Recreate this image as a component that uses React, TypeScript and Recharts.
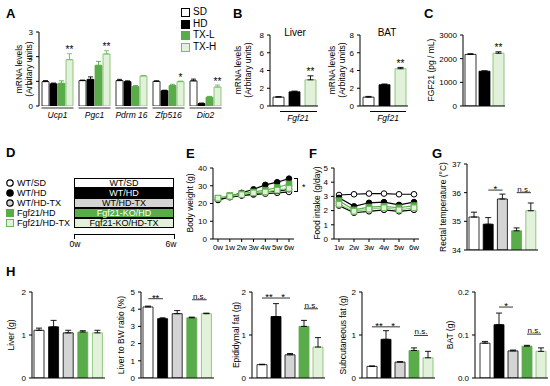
import React from 'react';
import { BarChart, Bar, LineChart, Line, XAxis, YAxis, ErrorBar, Cell, LabelList, ReferenceLine } from 'recharts';

const FONT = '"Liberation Sans", Arial, Helvetica, sans-serif';

// ---- A: thermogenic genes in BAT
const genes = ['Ucp1', 'Pgc1', 'Pdrm 16', 'Zfp516', 'Dio2'];
const aSD = [0.99, 1.03, 1.03, 1.0, 1.02];
const aSDerr = [0.04, 0.02, 0.05, 0.02, 0.07];
const aHD = [0.9, 1.08, 0.99, 0.62, 0.1];
const aHDerr = [0.03, 0.1, 0.03, 0.02, 0.02];
const aTXL = [0.92, 1.65, 0.79, 0.83, 0.36];
const aTXLerr = [0.1, 0.16, 0.04, 0.05, 0.03];
const aTXH = [1.88, 2.11, 1.22, 0.99, 0.77];
const aTXHerr = [0.24, 0.13, 0.02, 0.02, 0.08];
const aSig = ['**', '**', '', '*', '**'];

// ---- B / C: Fgf21
const bcGroups = ['SD', 'HD', 'TX-H'];
const liverFgf21 = [1.0, 1.6, 2.95];
const liverFgf21Err = [0.05, 0.08, 0.45];
const batFgf21 = [1.0, 2.4, 4.2];
const batFgf21Err = [0.08, 0.08, 0.15];
const serumFgf21 = [2180, 1470, 2230];
const serumFgf21Err = [30, 15, 60];
const bcSig = ['', '', '**'];

// ---- E / F: time courses
const weeksE = ['0w', '1w', '2w', '3w', '4w', '5w', '6w'];
const bwWTSD = [22.5, 24, 24.5, 25, 25.5, 26, 26.5];
const bwWTHD = [22, 24, 26, 28, 30.5, 32, 34];
const bwWTHDTX = [22, 23.5, 24.5, 25.5, 26.5, 27, 28];
const bwKOHD = [23, 24.5, 25.5, 26.5, 27.5, 29, 31];
const bwKOHDTX = [23, 24, 25, 26, 26.5, 27.5, 28.5];

const weeksF = ['1w', '2w', '3w', '4w', '5w', '6w'];
const fiWTSD = [3.1, 3.15, 3.2, 3.2, 3.15, 3.15];
const fiWTHD = [2.9, 2.3, 2.55, 2.6, 2.4, 2.6];
const fiWTHDTX = [2.35, 1.85, 1.95, 2.05, 1.95, 2.05];
const fiKOHD = [2.7, 2.05, 2.25, 2.3, 2.2, 2.35];
const fiKOHDTX = [2.45, 1.95, 2.1, 2.2, 2.05, 2.2];

// ---- G / H: five groups
const fiveGroups = ['WT/SD', 'WT/HD', 'WT/HD-TX', 'Fgf21/HD', 'Fgf21/HD-TX'];
const rectalTemp = [35.15, 34.9, 35.78, 34.67, 35.37];
const rectalTempErr = [0.17, 0.23, 0.17, 0.1, 0.27];
const liverW = [1.11, 1.19, 1.05, 1.07, 1.05];
const liverWErr = [0.05, 0.15, 0.06, 0.03, 0.06];
const liverRatio = [4.13, 3.45, 3.74, 3.5, 3.74];
const liverRatioErr = [0.05, 0.05, 0.18, 0.04, 0.03];
const epiFat = [0.31, 1.43, 0.54, 1.2, 0.72];
const epiFatErr = [0.01, 0.3, 0.03, 0.14, 0.22];
const subqFat = [0.27, 0.9, 0.37, 0.64, 0.47];
const subqFatErr = [0.01, 0.2, 0.01, 0.06, 0.15];
const batW = [0.081, 0.124, 0.063, 0.074, 0.062];
const batWErr = [0.004, 0.027, 0.002, 0.002, 0.008];

const fills5 = ['#ffffff', '#000000', '#d4d4d4', '#5aab4a', '#e2f1d9'];
const strokes5 = ['#000000', '#000000', '#000000', '#5aab4a', '#78ba66'];
const fills4 = ['#ffffff', '#000000', '#5aab4a', '#e2f1d9'];
const strokes4 = ['#000000', '#000000', '#5aab4a', '#78ba66'];
const bcFill = [fills4[0], fills4[1], fills4[3]];
const bcStroke = [strokes4[0], strokes4[1], strokes4[3]];

const YW = 28;
const frame = (ax: number, top: number, bottom: number, right: number, xh = 12) => ({
  style: { position: 'absolute', left: ax - YW, top: top - 8 } as React.CSSProperties,
  width: right - ax + YW + 4,
  height: bottom - top + 8 + xh,
  margin: { top: 8, right: 4, left: 0, bottom: 0 },
});

const tickFont = { fontSize: 8, fill: '#000', fontFamily: FONT };

const yAxis = (domain: number[], ticks: number[], fmt?: (v: number) => string) => (
  <YAxis
    width={YW}
    type="number"
    domain={domain}
    ticks={ticks}
    interval={0}
    allowDataOverflow
    tickSize={3}
    tickMargin={3}
    tick={tickFont}
    tickFormatter={fmt}
    axisLine={{ stroke: '#000' }}
    tickLine={{ stroke: '#000' }}
  />
);

const starLabel = (vals: number[], errs: number[]) => (p: any) => {
  const vb = p.viewBox || p;
  const { x, y, width, height } = vb;
  if (!p.value) return null;
  const ePx = (Math.abs(height) * errs[p.index]) / vals[p.index];
  return (
    <text key={p.index} x={x + width / 2} y={y - ePx - 0.5} textAnchor="middle" fontSize={10} fontFamily={FONT} fill="#000">
      {p.value}
    </text>
  );
};

const T = ({ x, y, children, size = 9, center = false, style }: any) => (
  <div
    style={{
      position: 'absolute', left: x, top: y, fontSize: size, whiteSpace: 'nowrap', lineHeight: 1,
      transform: center ? 'translate(-50%,-50%)' : 'translateY(-50%)', ...style,
    }}
  >
    {children}
  </div>
);

const VLabel = ({ x, y, lines, size = 8.5 }: any) => (
  <div
    style={{
      position: 'absolute', left: x, top: y, transform: 'translate(-50%,-50%) rotate(-90deg)',
      whiteSpace: 'nowrap', textAlign: 'center', fontSize: size, lineHeight: `${size + 1}px`,
    }}
  >
    {lines.map((l: string) => <div key={l}>{l}</div>)}
  </div>
);

const Letter = ({ x, y, c }: any) => (
  <div style={{ position: 'absolute', left: x, top: y, fontSize: 13, fontWeight: 'bold', lineHeight: 1 }}>{c}</div>
);

// ---- Panel A
const aRows = genes.map((g, i) => ({
  gene: g,
  SD: aSD[i], SDe: [0, aSDerr[i]],
  HD: aHD[i], HDe: [0, aHDerr[i]],
  TXL: aTXL[i], TXLe: [0, aTXLerr[i]],
  TXH: aTXH[i], TXHe: [0, aTXHerr[i]],
  sig: aSig[i],
}));

const GeneTick = (p: any) => (
  <g>
    <line x1={p.x - 16} x2={p.x + 16} y1={p.y + 2} y2={p.y + 2} stroke="#000" strokeWidth={0.8} />
    <text x={p.x} y={p.y + 12} textAnchor="middle" fontSize={8.5} fontStyle="italic" fontFamily={FONT} fill="#000">
      {p.payload.value}
    </text>
  </g>
);

const PanelA = () => {
  const f = frame(39, 32, 106, 224, 16);
  const keys = ['SD', 'HD', 'TXL', 'TXH'];
  return (
    <div style={f.style}>
      <BarChart width={f.width} height={f.height} margin={f.margin} data={aRows} barCategoryGap={3} barGap={1}>
        <XAxis dataKey="gene" axisLine={false} tickLine={false} tickSize={0} tickMargin={0} height={16} interval={0} tick={GeneTick} />
        {yAxis([0, 3], [0, 1, 2, 3])}
        {keys.map((k, i) => (
          <Bar key={k} dataKey={k} fill={fills4[i]} stroke={strokes4[i]} strokeWidth={0.8} isAnimationActive={false}>
            <ErrorBar dataKey={`${k}e`} width={2.5} stroke={i >= 2 ? strokes4[i] : '#000'} strokeWidth={0.9} />
            {k === 'TXH' && <LabelList dataKey="sig" content={starLabel(aTXH, aTXHerr)} />}
          </Bar>
        ))}
      </BarChart>
    </div>
  );
};

// ---- B/C small 3-bar charts
const SmallBars = ({ vals, errs, ax, right, domain, ticks, fmt }: any) => {
  const f = frame(ax, 35, 106, right, 8);
  const rows = bcGroups.map((g, i) => ({ g, v: vals[i], e: [0, errs[i]], sig: bcSig[i] }));
  return (
    <div style={f.style}>
      <BarChart width={f.width} height={f.height} margin={f.margin} data={rows} barCategoryGap={3}>
        <XAxis dataKey="g" tick={false} tickSize={2} height={8} axisLine={{ stroke: '#000' }} tickLine={{ stroke: '#000' }} interval={0} />
        {yAxis(domain, ticks, fmt)}
        <Bar dataKey="v" barSize={11} strokeWidth={0.8} isAnimationActive={false}>
          {rows.map((r, i) => <Cell key={r.g} fill={bcFill[i]} stroke={bcStroke[i]} />)}
          <ErrorBar dataKey="e" width={3} stroke="#000" strokeWidth={0.9} />
          <LabelList dataKey="sig" content={starLabel(vals, errs)} />
        </Bar>
      </BarChart>
    </div>
  );
};

// ---- G/H five-group charts
const FiveBars = ({ vals, errs, ax, top, bottom, right, domain, ticks, fmt, sigs = [], pad = 0 }: any) => {
  const f = frame(ax, top, bottom, right, 8);
  const rows = fiveGroups.map((g, i) => ({ g, v: vals[i], e: [0, errs[i]] }));
  return (
    <div style={f.style}>
      <BarChart width={f.width} height={f.height} margin={f.margin} data={rows} barCategoryGap={3}>
        <XAxis dataKey="g" tick={false} tickSize={2} height={8} padding={{ left: pad, right: 0 }} axisLine={{ stroke: '#000' }} tickLine={{ stroke: '#000' }} interval={0} />
        {yAxis(domain, ticks, fmt)}
        <Bar dataKey="v" barSize={10} strokeWidth={0.8} isAnimationActive={false}>
          {rows.map((r, i) => <Cell key={r.g} fill={fills5[i]} stroke={strokes5[i]} />)}
          <ErrorBar dataKey="e" width={3} stroke="#000" strokeWidth={0.9} />
        </Bar>
        {sigs.map((s: any, i: number) => (
          <ReferenceLine
            key={i}
            segment={[{ x: fiveGroups[s.a], y: s.y }, { x: fiveGroups[s.b], y: s.y }]}
            stroke="#000"
            strokeWidth={0.8}
            label={{ value: s.t, position: 'top', fontSize: s.t === 'n.s.' ? 8 : 9.5, fill: '#000', fontFamily: FONT, offset: s.t === 'n.s.' ? 1 : -2 }}
          />
        ))}
      </BarChart>
    </div>
  );
};

// ---- E/F line charts
const lineSeries = [
  { key: 'wtsd', line: '#000', shape: 'circle', fill: '#fff', stroke: '#000' },
  { key: 'wthd', line: '#000', shape: 'circle', fill: '#000', stroke: '#000' },
  { key: 'wthdtx', line: '#000', shape: 'circle', fill: '#d4d4d4', stroke: '#000' },
  { key: 'kohd', line: '#5aab4a', shape: 'square', fill: '#5aab4a', stroke: '#5aab4a' },
  { key: 'kohdtx', line: '#8fca7c', shape: 'square', fill: '#e2f1d9', stroke: '#6cb45a' },
];

const makeDot = (s: any) => (p: any) => {
  if (p.cx == null || p.cy == null) return <g key={p.index} />;
  return s.shape === 'circle' ? (
    <circle key={p.index} cx={p.cx} cy={p.cy} r={2.8} fill={s.fill} stroke={s.stroke} strokeWidth={1} />
  ) : (
    <rect key={p.index} x={p.cx - 2.8} y={p.cy - 2.8} width={5.6} height={5.6} fill={s.fill} stroke={s.stroke} strokeWidth={1} />
  );
};

const eRows = weeksE.map((w, i) => ({ w, wtsd: bwWTSD[i], wthd: bwWTHD[i], wthdtx: bwWTHDTX[i], kohd: bwKOHD[i], kohdtx: bwKOHDTX[i] }));
const fRows = weeksF.map((w, i) => ({ w, wtsd: fiWTSD[i], wthd: fiWTHD[i], wthdtx: fiWTHDTX[i], kohd: fiKOHD[i], kohdtx: fiKOHDTX[i] }));

const TimeChart = ({ rows, ax, right, domain, ticks }: any) => {
  const f = frame(ax, 168, 239, right, 16);
  return (
    <div style={f.style}>
      <LineChart width={f.width} height={f.height} margin={f.margin} data={rows}>
        <XAxis dataKey="w" interval={0} tickSize={3} tickMargin={2} height={16} padding={{ left: 5, right: 5 }} tick={tickFont} axisLine={{ stroke: '#000' }} tickLine={{ stroke: '#000' }} />
        {yAxis(domain, ticks)}
        {lineSeries.map((s) => (
          <Line key={s.key} dataKey={s.key} stroke={s.line} strokeWidth={1.2} dot={makeDot(s)} isAnimationActive={false} />
        ))}
      </LineChart>
    </div>
  );
};

const legendD = [
  { label: 'WT/SD', box: 'WT/SD', shape: 'circle', fill: '#fff', stroke: '#000', bFill: '#fff', bText: '#000' },
  { label: 'WT/HD', box: 'WT/HD', shape: 'circle', fill: '#000', stroke: '#000', bFill: '#000', bText: '#fff' },
  { label: 'WT/HD-TX', box: 'WT/HD-TX', shape: 'circle', fill: '#d4d4d4', stroke: '#000', bFill: '#d4d4d4', bText: '#000' },
  { label: 'Fgf21/HD', box: 'Fgf21-KO/HD', shape: 'square', fill: '#5aab4a', stroke: '#5aab4a', bFill: '#5aab4a', bText: '#fff' },
  { label: 'Fgf21/HD-TX', box: 'Fgf21-KO/HD-TX', shape: 'square', fill: '#e2f1d9', stroke: '#6cb45a', bFill: '#e2f1d9', bText: '#000' },
];
const legendA = ['SD', 'HD', 'TX-L', 'TX-H'];

export default function App() {
  return (
    <div style={{ position: 'fixed', left: 0, top: 0, width: 550, height: 386, overflow: 'hidden', background: '#fff', fontFamily: FONT, color: '#000' }}>
      {/* A */}
      <Letter x={6} y={7} c="A" />
      <VLabel x={24} y={69} lines={['mRNA levels', '(Arbitary units)']} />
      <PanelA />
      {legendA.map((l, i) => (
        <div key={l}>
          <div style={{ position: 'absolute', left: 181, top: 8 + i * 11.5, width: 7, height: 7, background: fills4[i], border: `1px solid ${strokes4[i]}` }} />
          <T x={193} y={12 + i * 11.5} size={10}>{l}</T>
        </div>
      ))}

      {/* B */}
      <Letter x={233} y={7} c="B" />
      <T x={295} y={33} size={10} center>Liver</T>
      <T x={387} y={33} size={10} center>BAT</T>
      <VLabel x={243} y={70} lines={['mRNA levels', '(Arbitary units)']} />
      <VLabel x={337} y={70} lines={['mRNA levels', '(Arbitary units)']} />
      <SmallBars vals={liverFgf21} errs={liverFgf21Err} ax={270} right={318} domain={[0, 8]} ticks={[0, 2, 4, 6, 8]} />
      <SmallBars vals={batFgf21} errs={batFgf21Err} ax={360} right={408} domain={[0, 8]} ticks={[0, 2, 4, 6, 8]} />
      <div style={{ position: 'absolute', left: 280, top: 111, width: 37, borderTop: '1px solid #000' }} />
      <T x={298} y={118} size={8.5} center style={{ fontStyle: 'italic' }}>Fgf21</T>
      <div style={{ position: 'absolute', left: 370, top: 111, width: 36, borderTop: '1px solid #000' }} />
      <T x={388} y={118} size={8.5} center style={{ fontStyle: 'italic' }}>Fgf21</T>

      {/* C */}
      <Letter x={424} y={7} c="C" />
      <VLabel x={432} y={70} lines={['FGF21  (pg / mL)']} />
      <SmallBars vals={serumFgf21} errs={serumFgf21Err} ax={463} right={505} domain={[0, 3000]} ticks={[0, 1000, 2000, 3000]} />

      {/* D */}
      <Letter x={6} y={146} c="D" />
      {legendD.map((d, i) => (
        <div key={d.label}>
          <svg style={{ position: 'absolute', left: 5, top: 178 + i * 10 }} width={10} height={10}>
            {d.shape === 'circle'
              ? <circle cx={5} cy={5} r={3.2} fill={d.fill} stroke={d.stroke} strokeWidth={1.2} />
              : <rect x={1.5} y={1.5} width={7} height={7} fill={d.fill} stroke={d.stroke} strokeWidth={1} />}
          </svg>
          <T x={17} y={183 + i * 10} size={9}>{d.label}</T>
          <div style={{
            position: 'absolute', left: 74, top: 178 + i * 10, width: 98, height: 8, background: d.bFill,
            border: '1px solid #000', color: d.bText, fontSize: 9, lineHeight: '8px', textAlign: 'center',
          }}>{d.box}</div>
        </div>
      ))}
      <div style={{ position: 'absolute', left: 74, top: 234, width: 99, height: 4, borderTop: '1px solid #000', borderLeft: '1px solid #000', borderRight: '1px solid #000' }} />
      <T x={75} y={244} size={8.5} center>0w</T>
      <T x={171} y={244} size={8.5} center>6w</T>

      {/* E */}
      <Letter x={186} y={147} c="E" />
      <VLabel x={191} y={203} lines={['Body weight (g)']} />
      <TimeChart rows={eRows} ax={213} right={294} domain={[0, 40]} ticks={[0, 10, 20, 30, 40]} />
      <div style={{ position: 'absolute', left: 294, top: 178, width: 3, height: 12, borderTop: '1px solid #000', borderRight: '1px solid #000', borderBottom: '1px solid #000' }} />
      <T x={302} y={187} size={9}>*</T>

      {/* F */}
      <Letter x={309} y={147} c="F" />
      <VLabel x={318} y={203} lines={['Food intake (g/day)']} />
      <TimeChart rows={fRows} ax={334} right={419} domain={[0, 5]} ticks={[0, 1, 2, 3, 4, 5]} />

      {/* G */}
      <Letter x={432} y={147} c="G" />
      <VLabel x={444} y={207} lines={['Rectal temperature (°C)']} />
      <FiveBars vals={rectalTemp} errs={rectalTempErr} ax={467} top={164} bottom={250} right={538} domain={[34, 37]} ticks={[34, 35, 36, 37]}
        sigs={[{ a: 1, b: 2, y: 36.09, t: '*' }, { a: 3, b: 4, y: 36.0, t: 'n.s.' }]} />

      {/* H */}
      <Letter x={6} y={265} c="H" />
      <VLabel x={12} y={335} lines={['Liver (g)']} />
      <FiveBars vals={liverW} errs={liverWErr} ax={32} top={292} bottom={378} right={105} domain={[0, 2]} ticks={[0, 1, 2]} />
      <VLabel x={122} y={335} lines={['Liver to BW ratio (%)']} />
      <FiveBars vals={liverRatio} errs={liverRatioErr} ax={141} top={292} bottom={378} right={214} domain={[0, 5]} ticks={[0, 1, 2, 3, 4, 5]}
        sigs={[{ a: 0, b: 1, y: 4.61, t: '**' }, { a: 3, b: 4, y: 4.55, t: 'n.s.' }]} />
      <VLabel x={237} y={335} lines={['Epididymal fat (g)']} />
      <FiveBars vals={epiFat} errs={epiFatErr} ax={252} top={292} bottom={378} right={325} pad={3} domain={[0, 2]} ticks={[0, 1, 2]}
        sigs={[{ a: 0, b: 1, y: 1.86, t: '**' }, { a: 1, b: 2, y: 1.86, t: '*' }, { a: 3, b: 4, y: 1.61, t: 'n.s.' }]} />
      <VLabel x={344} y={335} lines={['Subcutaneous fat (g)']} />
      <FiveBars vals={subqFat} errs={subqFatErr} ax={362} top={292} bottom={378} right={435} pad={3} domain={[0, 2]} ticks={[0, 1, 2]}
        sigs={[{ a: 0, b: 1, y: 1.19, t: '**' }, { a: 1, b: 2, y: 1.19, t: '*' }, { a: 3, b: 4, y: 0.99, t: 'n.s.' }]} />
      <VLabel x={451} y={335} lines={['BAT (g)']} />
      <FiveBars vals={batW} errs={batWErr} ax={475} top={292} bottom={378} right={548} pad={3} domain={[0, 0.2]} ticks={[0, 0.1, 0.2]} fmt={(v: number) => v.toFixed(1)}
        sigs={[{ a: 1, b: 2, y: 0.165, t: '*' }, { a: 3, b: 4, y: 0.102, t: 'n.s.' }]} />
    </div>
  );
}
